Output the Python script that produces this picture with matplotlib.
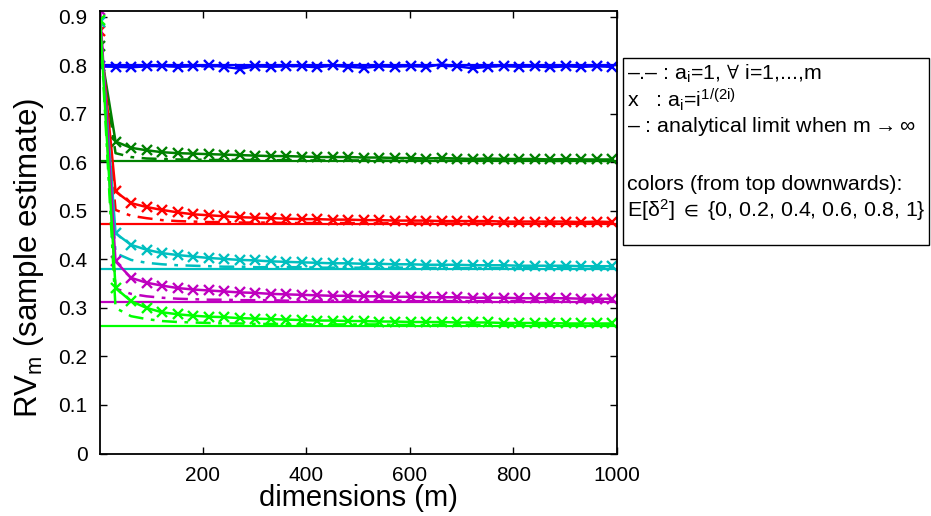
import matplotlib
matplotlib.use("Agg")
import matplotlib.pyplot as plt
from matplotlib.patches import Rectangle

plt.rcParams['font.family'] = ['Liberation Sans', 'DejaVu Sans']
plt.rcParams['mathtext.fontset'] = 'custom'
plt.rcParams['mathtext.rm'] = 'Liberation Sans'
plt.rcParams['mathtext.it'] = 'Liberation Sans'
plt.rcParams['mathtext.bf'] = 'Liberation Sans:bold'
plt.rcParams['mathtext.fallback'] = 'stixsans'

# number of dimensions m
dims = [1, 31, 61, 91, 121, 151, 181, 211, 241, 271, 301, 331, 361, 391, 421,
        451, 481, 511, 541, 571, 601, 631, 661, 691, 721, 751, 781, 811, 841,
        871, 901, 931, 961, 991]

# E[delta^2] levels, top curve first
delta_levels = [0, 0.2, 0.4, 0.6, 0.8, 1]
colors = ['#0000ff', '#008000', '#ff0000', '#00bfbf', '#bf00bf', '#00ff00']

# a_i = 1 (dash-dot curves)
rv_const = [
    [0.798, 0.799, 0.798, 0.799, 0.798, 0.799, 0.798, 0.798, 0.799, 0.798, 0.799, 0.798,
     0.798, 0.799, 0.798, 0.799, 0.798, 0.798, 0.799, 0.798, 0.799, 0.798, 0.799, 0.798,
     0.798, 0.799, 0.798, 0.799, 0.798, 0.798, 0.799, 0.798, 0.799, 0.798],
    [0.840, 0.619, 0.611, 0.608, 0.607, 0.606, 0.606, 0.605, 0.605, 0.605, 0.605, 0.604,
     0.605, 0.604, 0.604, 0.604, 0.604, 0.604, 0.604, 0.603, 0.604, 0.604, 0.603, 0.604,
     0.603, 0.604, 0.603, 0.603, 0.604, 0.603, 0.603, 0.603, 0.603, 0.603],
    [0.870, 0.502, 0.490, 0.485, 0.481, 0.479, 0.478, 0.477, 0.477, 0.476, 0.476, 0.476,
     0.475, 0.475, 0.475, 0.475, 0.475, 0.475, 0.474, 0.475, 0.474, 0.474, 0.474, 0.474,
     0.474, 0.474, 0.474, 0.474, 0.474, 0.474, 0.474, 0.474, 0.474, 0.474],
    [0.890, 0.413, 0.399, 0.393, 0.390, 0.388, 0.387, 0.386, 0.385, 0.385, 0.384, 0.384,
     0.384, 0.384, 0.383, 0.383, 0.383, 0.383, 0.383, 0.383, 0.383, 0.382, 0.383, 0.382,
     0.382, 0.382, 0.382, 0.382, 0.382, 0.382, 0.382, 0.382, 0.382, 0.382],
    [0.914, 0.340, 0.329, 0.324, 0.321, 0.319, 0.318, 0.317, 0.317, 0.316, 0.316, 0.316,
     0.315, 0.315, 0.315, 0.315, 0.315, 0.315, 0.314, 0.315, 0.314, 0.314, 0.314, 0.314,
     0.314, 0.314, 0.314, 0.314, 0.314, 0.314, 0.314, 0.314, 0.314, 0.314],
    [0.894, 0.300, 0.283, 0.277, 0.273, 0.271, 0.270, 0.269, 0.268, 0.268, 0.267, 0.267,
     0.267, 0.266, 0.266, 0.266, 0.266, 0.266, 0.266, 0.265, 0.265, 0.265, 0.265, 0.265,
     0.265, 0.265, 0.265, 0.265, 0.265, 0.265, 0.265, 0.265, 0.265, 0.265],
]

# a_i = i^(1/(2i)) (x-marked curves)
rv_power = [
    [0.798, 0.797, 0.796, 0.798, 0.799, 0.797, 0.798, 0.800, 0.797, 0.793, 0.798, 0.797,
     0.799, 0.798, 0.796, 0.800, 0.797, 0.795, 0.798, 0.797, 0.799, 0.797, 0.802, 0.798,
     0.794, 0.797, 0.799, 0.797, 0.798, 0.796, 0.798, 0.797, 0.798, 0.797],
    [0.840, 0.643, 0.630, 0.625, 0.621, 0.619, 0.618, 0.617, 0.616, 0.615, 0.614, 0.613,
     0.613, 0.612, 0.611, 0.611, 0.611, 0.610, 0.610, 0.609, 0.609, 0.608, 0.609, 0.608,
     0.607, 0.608, 0.607, 0.607, 0.607, 0.606, 0.607, 0.606, 0.606, 0.606],
    [0.870, 0.540, 0.516, 0.508, 0.502, 0.497, 0.493, 0.491, 0.489, 0.487, 0.486, 0.485,
     0.484, 0.483, 0.483, 0.482, 0.482, 0.481, 0.481, 0.480, 0.480, 0.480, 0.479, 0.479,
     0.479, 0.479, 0.478, 0.478, 0.478, 0.478, 0.478, 0.477, 0.478, 0.477],
    [0.890, 0.454, 0.430, 0.420, 0.413, 0.409, 0.406, 0.403, 0.401, 0.399, 0.398, 0.396,
     0.395, 0.394, 0.393, 0.392, 0.392, 0.391, 0.391, 0.390, 0.390, 0.389, 0.389, 0.389,
     0.388, 0.388, 0.388, 0.387, 0.387, 0.387, 0.387, 0.386, 0.386, 0.386],
    [0.914, 0.396, 0.362, 0.352, 0.346, 0.341, 0.338, 0.336, 0.334, 0.332, 0.331, 0.329,
     0.328, 0.327, 0.326, 0.325, 0.325, 0.324, 0.324, 0.323, 0.323, 0.322, 0.322, 0.322,
     0.321, 0.321, 0.321, 0.320, 0.320, 0.320, 0.320, 0.319, 0.319, 0.319],
    [0.894, 0.341, 0.314, 0.300, 0.291, 0.287, 0.284, 0.282, 0.281, 0.279, 0.278, 0.277,
     0.276, 0.275, 0.274, 0.274, 0.273, 0.273, 0.272, 0.272, 0.271, 0.271, 0.271, 0.270,
     0.270, 0.270, 0.269, 0.269, 0.269, 0.269, 0.268, 0.268, 0.268, 0.268],
]

# analytical limits for m -> infinity
rv_limit = [0.800, 0.602, 0.473, 0.380, 0.312, 0.262]

x_ticks = [200, 400, 600, 800, 1000]
y_ticks = [0, 0.1, 0.2, 0.3, 0.4, 0.5, 0.6, 0.7, 0.8, 0.9]
y_ticklabels = ['0', '0.1', '0.2', '0.3', '0.4', '0.5', '0.6', '0.7', '0.8', '0.9']

W, H = 931, 516
fig = plt.figure(figsize=(W / 100, H / 100), dpi=100)
ax = fig.add_axes([100 / W, 1 - 453.5 / H, 517 / W, 442.5 / H])

dashdot = (0, (6, 3, 1.5, 3))
for col, yc, yp, lim in zip(colors, rv_const, rv_power, rv_limit):
    ax.plot(dims, yc, color=col, lw=1.8, linestyle=dashdot)
    ax.plot(dims, yp, color=col, lw=1.8, marker='x', markersize=7.5,
            markeredgewidth=1.7)
    ax.axhline(lim, color=col, lw=1.6)

ax.set_xlim(1, 1000)
ax.set_ylim(0, 0.912)
ax.set_xticks(x_ticks)
ax.set_xticklabels([str(t) for t in x_ticks])
ax.set_yticks(y_ticks)
ax.set_yticklabels(y_ticklabels)
ax.tick_params(direction='in', length=5, width=1, top=True, right=True,
               labelsize=15, pad=9, colors='black')
for sp in ax.spines.values():
    sp.set_linewidth(1.3)
ax.set_xlabel('dimensions (m)', fontsize=21, labelpad=-1)
ax.set_ylabel('RV$_\\mathregular{m}$ (sample estimate)', fontsize=22.5)
ax.yaxis.set_label_coords(-54 / 517, (453.5 - 258) / 442.5)

# annotation box on the right
fig.patches.append(Rectangle((623 / W, 1 - 245 / H), 306 / W, 187 / H,
                             transform=fig.transFigure, fill=False,
                             edgecolor='black', linewidth=1.0))
lines = [
    (80, '\u2013.\u2013 : a$_\\mathregular{i}$=1, $\\forall$ i=1,...,m'),
    (107, 'x   : a$_\\mathregular{i}$=i$^\\mathregular{1/(2i)}$'),
    (132, '\u2013 : analytical limit when m$\\rightarrow\\infty$'),
    (190, 'colors (from top downwards):'),
    (217, 'E[$\\mathregular{\\delta}^\\mathregular{2}$] $\\in$ {0, 0.2, 0.4, 0.6, 0.8, 1}'),
]
for yb, s in lines:
    fig.text(627 / W, 1 - yb / H, s, fontsize=15.4, va='baseline', ha='left')

fig.savefig('out.png', dpi=100)
